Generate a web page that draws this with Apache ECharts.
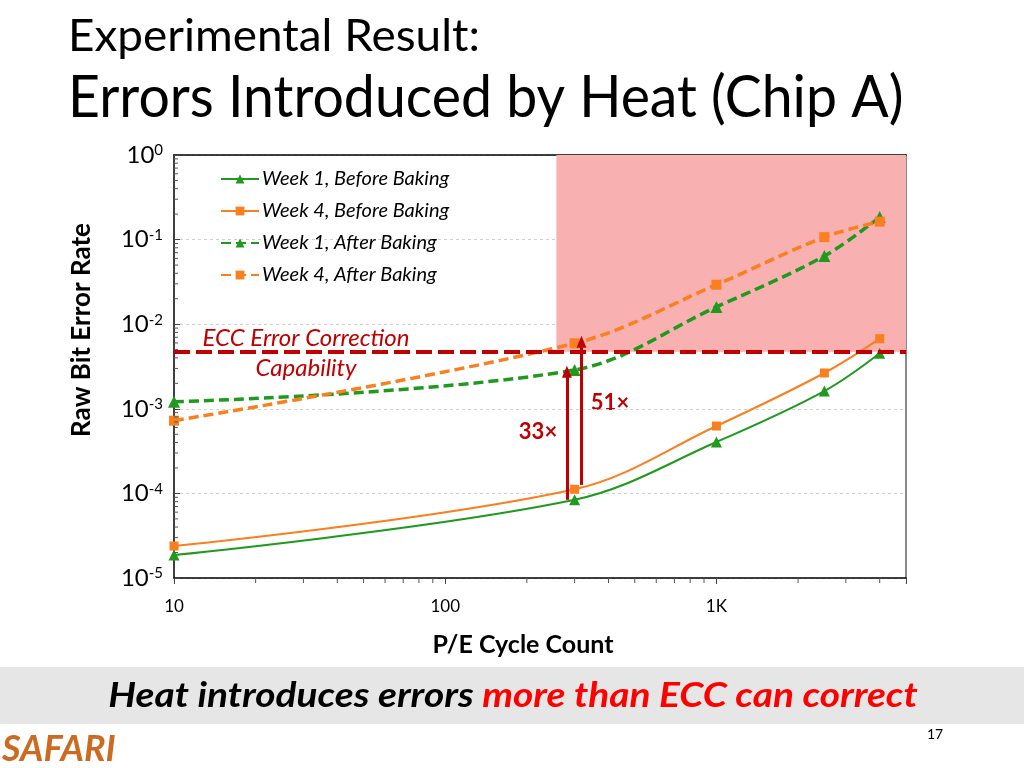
<!DOCTYPE html>
<html>
<head>
<meta charset="utf-8">
<script src="https://cdn.jsdelivr.net/npm/echarts@6/dist/echarts.min.js"></script>
<style>
html,body{margin:0;padding:0;background:#fff;}
#c{width:1024px;height:768px;}
</style>
</head>
<body>
<div id="c"></div>
<script>
// ---- data ----
const cycles = [10, 300, 1000, 2500, 4000];
const week1Before = [1.87e-5, 8.4e-5, 4.05e-4, 1.62e-3, 4.53e-3];
const week4Before = [2.39e-5, 1.12e-4, 6.26e-4, 2.65e-3, 6.74e-3];
const week1After  = [1.21e-3, 2.88e-3, 1.6e-2, 6.4e-2, 0.185];
const week4After  = [7.24e-4, 5.94e-3, 2.93e-2, 0.107, 0.163];
const eccCapability = 4.73e-3;
const unsafeStartCycle = 257;
const arrow33 = {x: 281, from: 8.4e-5, to: 2.75e-3, label: '33×'};
const arrow51 = {x: 318, from: 1.26e-4, to: 6.21e-3, label: '51×'};
const xMinorTicks = [20,30,40,50,60,70,80,90,200,300,400,500,600,700,800,900,2000,3000,4000];
const yMinorTicks = [];
[1e-5,1e-4,1e-3,1e-2,1e-1].forEach(d => { for (let k = 2; k <= 9; k++) yMinorTicks.push(+(k*d).toPrecision(3)); });

const GREEN = '#1F9A1F', ORANGE = '#F97F1F', DARKRED = '#C00000';
const FONT = 'Lato';

const chart = echarts.init(document.getElementById('c'));

function pts(ys){ return cycles.map((x,i)=>[x, ys[i]]); }

const option = {
  backgroundColor: '#fff',
  animation: false,
  grid: {left: 174, right: 118, top: 155, bottom: 190, containLabel: false},
  legend: {
    left: 220, top: 169, padding: 0, orient: 'vertical', itemGap: 12, itemWidth: 38, itemHeight: 11,
    textStyle: {fontFamily: FONT, fontStyle: 'italic', fontSize: 20, color: '#000', padding: [0,0,0,-2]},
    data: ['Week 1, Before Baking','Week 4, Before Baking','Week 1, After Baking','Week 4, After Baking']
  },
  xAxis: [{
    type: 'log', logBase: 10, min: 10, max: 5000,
    axisLine: {show: true, lineStyle: {color: '#000', width: 1.5}},
    axisTick: {show: true, length: 6, inside: false, lineStyle: {color: '#444'}},
    axisLabel: {fontFamily: FONT, fontSize: 17, color: '#000', margin: 20,
      formatter: v => { const e = Math.log10(v); if (Math.abs(e - Math.round(e)) > 1e-6) return ''; return v >= 1000 ? (v/1000) + 'K' : String(v); }},
    splitLine: {show: false}
  }, {
    type: 'log', logBase: 10, min: 10, max: 5000, position: 'top',
    axisLine: {show: true, lineStyle: {color: '#000', width: 1.5}},
    axisTick: {show: false}, axisLabel: {show: false}, splitLine: {show: false}
  }],
  yAxis: [{
    type: 'log', logBase: 10, min: 1e-5, max: 1,
    axisLine: {show: true, lineStyle: {color: '#000', width: 1.5}},
    axisTick: {show: true, inside: true, length: 6, lineStyle: {color: '#444'}},
    axisLabel: {margin: 11, color: '#000',
      formatter: v => '{a|10}{b|' + Math.round(Math.log10(v)) + '}',
      rich: {a: {fontFamily: FONT, fontSize: 24, color: '#000'},
             b: {fontFamily: FONT, fontSize: 15, color: '#000', verticalAlign: 'top'}}},
    splitLine: {show: true, lineStyle: {color: '#CFCFCF', type: [3,3], width: 1}}
  }, {
    type: 'log', logBase: 10, min: 1e-5, max: 1, position: 'right',
    axisLine: {show: true, lineStyle: {color: '#8A8A8A', width: 2}},
    axisTick: {show: false}, axisLabel: {show: false}, splitLine: {show: false}
  }],
  series: [
    {
      name: 'unsafe', type: 'line', data: [], z: 1, silent: true,
      markArea: {silent: true, itemStyle: {color: '#F8B0B0'},
        data: [[{coord: [unsafeStartCycle, eccCapability]}, {coord: [5000, 1]}]]}
    },
    {
      name: 'xMinor', type: 'custom', z: 4, silent: true, clip: false,
      data: xMinorTicks.map(v => [v, 1e-5]),
      renderItem: (p, api) => { const c = api.coord([api.value(0), api.value(1)]);
        return {type: 'line', shape: {x1: c[0], y1: c[1], x2: c[0], y2: c[1] + 5}, style: {stroke: '#555', lineWidth: 1}}; }
    },
    {
      name: 'yMinor', type: 'custom', z: 4, silent: true, clip: false,
      data: yMinorTicks.map(v => [10, v]),
      renderItem: (p, api) => { const c = api.coord([api.value(0), api.value(1)]);
        return {type: 'line', shape: {x1: c[0], y1: c[1], x2: c[0] + 4, y2: c[1]}, style: {stroke: '#555', lineWidth: 1}}; }
    },
    {
      name: 'Week 1, Before Baking', type: 'line', z: 3, smooth: 0.35, data: pts(week1Before),
      symbol: 'triangle', symbolSize: 11, color: GREEN, lineStyle: {width: 2, color: GREEN},
      markLine: {silent: true, symbol: ['none','none'], animation: false, label: {show: false},
        data: [
          [{coord: [10, eccCapability], symbol: 'none'}, {coord: [5000, eccCapability], symbol: 'none', lineStyle: {color: DARKRED, width: 4, type: [16,6]}}],
          [{coord: [arrow33.x, arrow33.from], symbol: 'none'}, {coord: [arrow33.x, arrow33.to], symbol: 'triangle', symbolSize: [10,12], lineStyle: {color: DARKRED, width: 3, type: 'solid'}}],
          [{coord: [arrow51.x, arrow51.from], symbol: 'none'}, {coord: [arrow51.x, arrow51.to], symbol: 'triangle', symbolSize: [10,12], lineStyle: {color: DARKRED, width: 3, type: 'solid'}}]
        ]}
    },
    {
      name: 'Week 4, Before Baking', type: 'line', z: 3, smooth: 0.35, data: pts(week4Before),
      symbol: 'rect', symbolSize: 9, color: ORANGE, lineStyle: {width: 2, color: ORANGE}
    },
    {
      name: 'Week 1, After Baking', type: 'line', z: 3, smooth: 0.35, data: pts(week1After),
      symbol: 'triangle', symbolSize: 12, color: GREEN, lineStyle: {width: 3.5, color: GREEN, type: [10,5]}
    },
    {
      name: 'Week 4, After Baking', type: 'line', z: 3, smooth: 0.35, data: pts(week4After),
      symbol: 'rect', symbolSize: 10, color: ORANGE, lineStyle: {width: 3.5, color: ORANGE, type: [10,5]}
    }
  ],
  graphic: [
    {type: 'text', x: 68, y: 14, scaleX: 1.02, style: {text: 'Experimental Result:', fontFamily: FONT, fontSize: 45, fill: '#000', verticalAlign: 'top'}},
    {type: 'text', x: 68, y: 69, scaleX: 0.955, style: {text: 'Errors Introduced by Heat (Chip A)', fontFamily: FONT, fontSize: 58, fill: '#000', verticalAlign: 'top'}},
    {type: 'text', x: 82, y: 330, rotation: Math.PI/2, style: {text: 'Raw Bit Error Rate', fontFamily: FONT, fontWeight: 'bold', fontSize: 26, fill: '#000', align: 'center', verticalAlign: 'middle'}},
    {type: 'text', x: 523, y: 645, style: {text: 'P/E Cycle Count', fontFamily: FONT, fontWeight: 'bold', fontSize: 25, fill: '#000', align: 'center', verticalAlign: 'middle'}},
    {type: 'text', x: 306, y: 338, style: {text: 'ECC Error Correction', fontFamily: FONT, fontStyle: 'italic', fontSize: 24, fill: DARKRED, align: 'center', verticalAlign: 'middle'}},
    {type: 'text', x: 306, y: 368, style: {text: 'Capability', fontFamily: FONT, fontStyle: 'italic', fontSize: 24, fill: DARKRED, align: 'center', verticalAlign: 'middle'}},
    {type: 'text', x: 538, y: 432, style: {text: arrow33.label, fontFamily: FONT, fontWeight: 'bold', fontSize: 22, fill: DARKRED, align: 'center', verticalAlign: 'middle'}},
    {type: 'text', x: 610, y: 403, style: {text: arrow51.label, fontFamily: FONT, fontWeight: 'bold', fontSize: 22, fill: DARKRED, align: 'center', verticalAlign: 'middle'}},
    {type: 'rect', shape: {x: 0, y: 667, width: 1024, height: 57}, style: {fill: '#E6E6E6'}, z: -1},
    {type: 'text', x: 513, y: 696, scaleX: 1.11, style: {text: '{k|Heat introduces errors }{r|more than ECC can correct}', align: 'center', verticalAlign: 'middle',
      rich: {k: {fontFamily: FONT, fontWeight: 'bold', fontStyle: 'italic', fontSize: 35, fill: '#000', color: '#000'},
             r: {fontFamily: FONT, fontWeight: 'bold', fontStyle: 'italic', fontSize: 35, fill: '#FF0000', color: '#FF0000'}}}},
    {type: 'text', x: 2, y: 749, style: {text: 'SAFARI', fontFamily: FONT, fontWeight: 'bold', fontStyle: 'italic', fontSize: 36, fill: '#CC6A22', verticalAlign: 'middle'}},
    {type: 'text', x: 935, y: 734, style: {text: '17', fontFamily: FONT, fontSize: 14, fill: '#000', align: 'center', verticalAlign: 'middle'}}
  ]
};
chart.setOption(option);
</script>
</body>
</html>
